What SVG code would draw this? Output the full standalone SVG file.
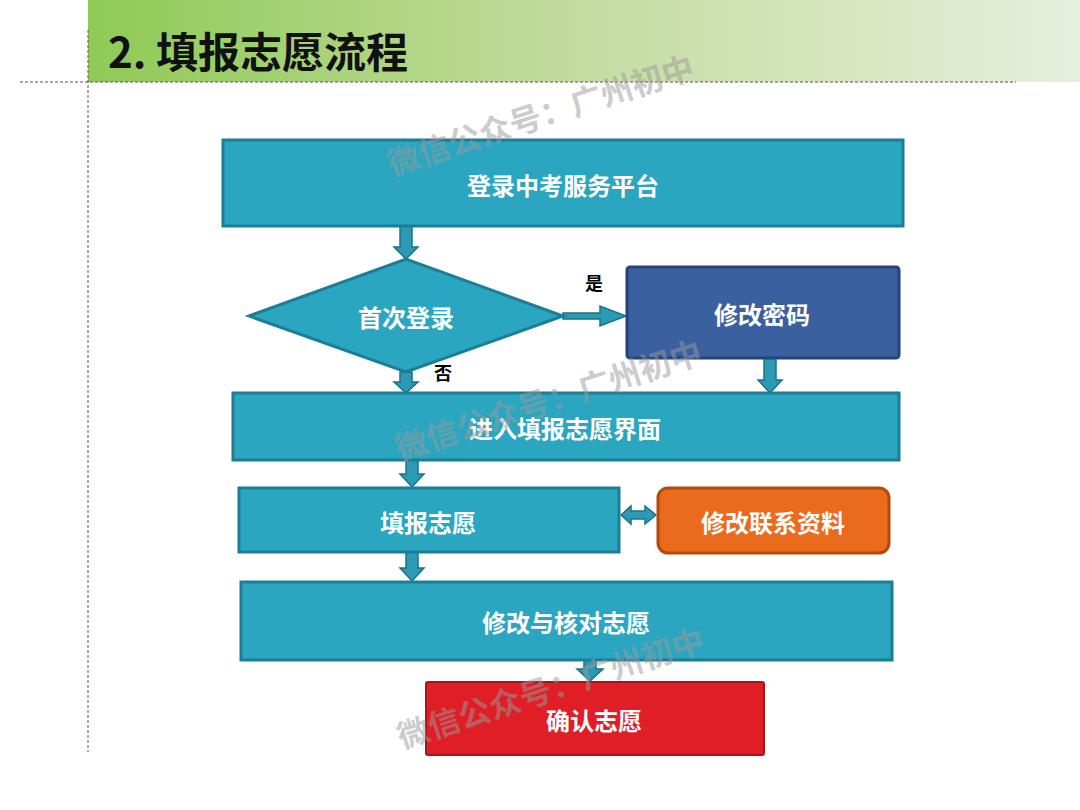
<svg xmlns="http://www.w3.org/2000/svg" width="1080" height="810" viewBox="0 0 1080 810">
<defs>
<linearGradient id="hdr" x1="0" y1="0" x2="1" y2="0">
<stop offset="0" stop-color="#8fca55"/>
<stop offset="0.5" stop-color="#c4dca0"/>
<stop offset="1" stop-color="#e6efdc"/>
</linearGradient>
<style>
.t{font-family:"Noto Sans CJK SC","Liberation Sans",sans-serif;font-weight:bold;text-anchor:middle;dominant-baseline:central;fill:#fff;font-size:24px}
.teal{fill:#2ba6c1;stroke:#1b7d96;stroke-width:3}
.arr{fill:#2a9ab5;stroke:#1b7288;stroke-width:1.5;stroke-linejoin:miter}
.lbl{font-family:"Noto Sans CJK SC","Liberation Sans",sans-serif;font-weight:bold;font-size:18px;fill:#000;text-anchor:middle;dominant-baseline:central}
.wm{font-family:"Noto Sans CJK SC","Liberation Sans",sans-serif;font-weight:bold;font-size:32px;fill:#9a9a9a;fill-opacity:0.5}
</style>
</defs>
<rect width="1080" height="810" fill="#fff"/>
<rect x="88" y="0" width="992" height="82" fill="url(#hdr)"/>
<line x1="20" y1="82" x2="1016" y2="82" stroke="#555" stroke-width="1" stroke-dasharray="3,2"/>
<line x1="88" y1="30" x2="88" y2="752" stroke="#555" stroke-width="1" stroke-dasharray="3,2"/>
<text x="108" y="49" font-family="Noto Sans CJK SC,Liberation Sans,sans-serif" font-weight="bold" font-size="42" fill="#111" dominant-baseline="central">2. 填报志愿流程</text>

<g id="connectors">
<polygon class="arr" points="400,226 412,226 412,247 418,247 406,259 394,247 400,247"/>
<polygon class="arr" points="400,372 412,372 412,382 418,382 406,393 394,382 400,382"/>
<polygon class="arr" points="563,313 600,313 600,306 626,316 600,326 600,319 563,319"/>
<polygon class="arr" points="764,358 776,358 776,380 782,380 770,393 758,380 764,380"/>
<polygon class="arr" points="406,460 418,460 418,474 424,474 412,487 400,474 406,474"/>
<polygon class="arr" points="621,515 631,506 631,511 645,511 645,506 656,515 645,524 645,519 631,519 631,524"/>
<polygon class="arr" points="406,552 418,552 418,568 424,568 412,581 400,568 406,568"/>
<polygon class="arr" points="584,660 596,660 596,669 603,669 590,681 577,669 584,669"/>
<text class="lbl" x="594" y="282">是</text>
<text class="lbl" x="443" y="372">否</text>
</g>

<g id="n1"><rect class="teal" x="223" y="140" width="680" height="86"/><text class="t" x="563" y="184">登录中考服务平台</text></g>
<g id="n2"><polygon class="teal" points="249,316 406,259 563,316 406,372"/><text class="t" x="406" y="316">首次登录</text></g>
<g id="n3"><rect x="627" y="267" width="272" height="91" rx="3" fill="#3a60a0" stroke="#24457c" stroke-width="3"/><text class="t" x="762" y="313">修改密码</text></g>
<g id="n4"><rect class="teal" x="233" y="393" width="666" height="67"/><text class="t" x="565" y="427">进入填报志愿界面</text></g>
<g id="n5"><rect class="teal" x="239" y="488" width="380" height="64"/><text class="t" x="428" y="521">填报志愿</text></g>
<g id="n6"><rect x="658" y="488" width="231" height="65" rx="10" fill="#ea6a1e" stroke="#b5480f" stroke-width="3"/><text class="t" x="773" y="521">修改联系资料</text></g>
<g id="n7"><rect class="teal" x="241" y="582" width="651" height="78"/><text class="t" x="566" y="621">修改与核对志愿</text></g>
<g id="n8"><rect x="426" y="682" width="338" height="73" rx="2" fill="#e01e26" stroke="#a8141a" stroke-width="2"/><text class="t" x="594" y="719">确认志愿</text></g>

<g id="watermarks">
<text class="wm" transform="translate(392,176) rotate(-18)">微信公众号：广州初中</text>
<text class="wm" transform="translate(400,461) rotate(-18)">微信公众号：广州初中</text>
<text class="wm" transform="translate(402,749) rotate(-18)">微信公众号：广州初中</text>
</g>
</svg>
